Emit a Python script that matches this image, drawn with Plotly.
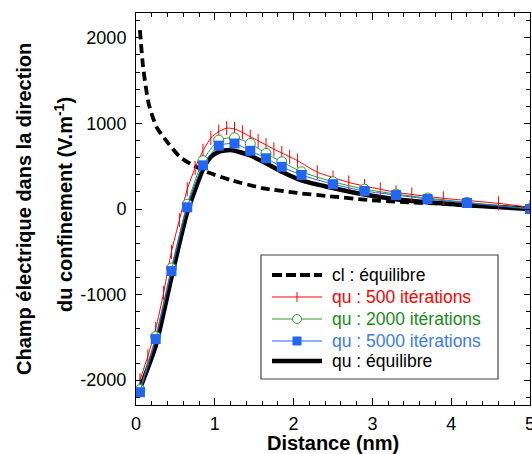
import plotly.graph_objects as go

# ---------------- data ----------------
cl_x = [0.05, 0.09, 0.16, 0.26, 0.41, 0.56, 0.72, 0.9, 1.2, 1.6, 2.05, 2.45, 2.95, 3.4, 3.8, 4.2, 4.6, 5.0]
cl_y = [2090, 1660, 1233, 960, 766, 606, 513, 432, 338, 245, 187, 150, 105, 80, 65, 45, 25, 0]

red_x = [0.05, 0.15, 0.25, 0.35, 0.45, 0.55, 0.65, 0.75, 0.85, 0.95, 1.05, 1.15, 1.25, 1.35, 1.45,
         1.55, 1.65, 1.75, 1.85, 1.95, 2.05, 2.3, 2.5, 2.7, 2.9, 3.1, 3.3, 3.5, 3.9, 4.6, 5.0]
red_y = [-2000, -1720, -1400, -980, -500, -130, 230, 480, 680, 830, 905, 945, 935, 895, 845,
         797, 748, 698, 655, 610, 565, 430, 368, 310, 268, 230, 195, 170, 125, 66, 20]

mk_x = [0.05, 0.25, 0.45, 0.65, 0.85, 1.05, 1.25, 1.45, 1.65, 1.85, 2.1, 2.5, 2.9, 3.3, 3.7, 4.2, 5.0]
green_y = [-2110, -1490, -690, 55, 565, 805, 832, 766, 650, 552, 435, 318, 232, 175, 128, 78, 5]
blue_y = [-2140, -1520, -725, 20, 510, 740, 765, 680, 593, 493, 397, 290, 210, 163, 117, 70, 0]

eq_x = [0.05, 0.25, 0.45, 0.65, 0.85, 0.95, 1.05, 1.2, 1.45, 1.65, 1.85, 2.1, 2.5, 2.9, 3.3, 3.7, 4.2, 5.0]
eq_y = [-2100, -1600, -800, -40, 460, 610, 668, 690, 625, 535, 435, 335, 245, 170, 115, 78, 45, 0]

x_ticks = [0, 1, 2, 3, 4, 5]
x_ticktext = ["0", "1", "2", "3", "4", "5"]
y_ticks = [-2000, -1000, 0, 1000, 2000]
y_ticktext = ["-2000", "-1000", "0", "1000", "2000"]

names = ["cl : équilibre", "qu : 500 itérations", "qu : 2000 itérations",
         "qu : 5000 itérations", "qu : équilibre"]

RED = "#ff0000"
GREEN_LINE = "#2f9a2f"
GREEN_TXT = "#1a8a1a"
BLUE = "#2266f2"
BLUE_TXT = "#3b7bf2"
FONT = "Liberation Sans, Arial, sans-serif"

fig = go.Figure()
fig.add_trace(go.Scatter(x=eq_x, y=eq_y, mode="lines", name=names[4],
                         line=dict(color="black", width=4.5, shape="spline", smoothing=0.6)))
fig.add_trace(go.Scatter(x=cl_x, y=cl_y, mode="lines", name=names[0],
                         line=dict(color="black", width=3.8, dash="9px,5px", shape="spline", smoothing=0.6)))
fig.add_trace(go.Scatter(x=red_x, y=red_y, mode="lines+markers", name=names[1],
                         line=dict(color=RED, width=1, shape="spline", smoothing=0.6),
                         marker=dict(symbol="line-ns", size=10, line=dict(color=RED, width=1))))
fig.add_trace(go.Scatter(x=mk_x, y=green_y, mode="lines+markers", name=names[2],
                         line=dict(color=GREEN_LINE, width=1, shape="spline", smoothing=0.6),
                         marker=dict(symbol="circle", size=10, color="white",
                                     line=dict(color=GREEN_LINE, width=1))))
fig.add_trace(go.Scatter(x=mk_x, y=blue_y, mode="lines+markers", name=names[3],
                         line=dict(color=BLUE, width=1, shape="spline", smoothing=0.6),
                         marker=dict(symbol="square", size=10, color=BLUE)))

# ---------------- layout ----------------
W, H = 532, 454
L, R, T, B = 136, 2, 13, 49
PW, PH = W - L - R, H - T - B


def px(xp):
    return (xp - L) / PW


def py(yp):
    return (H - B - yp) / PH


axis_common = dict(showgrid=False, zeroline=False, showline=True, linecolor="black", linewidth=1,
                   mirror="allticks", ticks="inside", tickcolor="black", ticklabeloverflow="allow",
                   automargin=False, tickfont=dict(family=FONT, size=18, color="black"))

fig.update_layout(
    width=W, height=H, margin=dict(l=L, r=R, t=T, b=B, autoexpand=False),
    paper_bgcolor="white", plot_bgcolor="white", showlegend=False,
    font=dict(family=FONT, color="black"),
    xaxis=dict(range=[0, 5], tickvals=x_ticks, ticktext=x_ticktext, ticklen=7,
               minor=dict(dtick=0.2, ticks="inside", ticklen=4, tickcolor="black"),
               ticklabelstandoff=2, **axis_common),
    yaxis=dict(range=[-2290, 2290], tickvals=y_ticks, ticktext=y_ticktext, ticklen=6,
               minor=dict(dtick=200, ticks="inside", ticklen=4, tickcolor="black"),
               ticklabelstandoff=5, **axis_common),
)

ann = []
ann.append(dict(text="<b>Distance (nm)</b>", xref="paper", yref="paper", x=0.5, y=0,
                yshift=-38, xanchor="center", yanchor="middle", showarrow=False,
                font=dict(family=FONT, size=20, color="black")))
ann.append(dict(text="<b>Champ électrique dans la direction</b>", xref="paper", yref="paper",
                x=0, y=py(209), xshift=24 - L, xanchor="center", yanchor="middle",
                textangle=-90, showarrow=False, font=dict(family=FONT, size=20, color="black")))
ann.append(dict(text="<b>du confinement (V.m<sup>-1</sup>)</b>", xref="paper", yref="paper",
                x=0, y=py(205), xshift=63 - L, xanchor="center", yanchor="middle",
                textangle=-90, showarrow=False, font=dict(family=FONT, size=20, color="black")))

# ---------------- custom legend ----------------
shapes = [dict(type="rect", xref="paper", yref="paper", x0=px(261), x1=px(498), y0=py(379), y1=py(255),
               line=dict(color="#444", width=1.2), fillcolor="white", layer="above")]
rows = [275, 297, 319, 341, 361]
lx0, lx1, lxc, tx = px(272), px(322), px(297), px(330)
txt_colors = ["black", RED, GREEN_TXT, BLUE_TXT, "black"]
line_styles = [dict(color="black", width=4, dash="10px,4px"), dict(color=RED, width=1),
               dict(color=GREEN_LINE, width=1), dict(color=BLUE, width=1),
               dict(color="black", width=4.5)]
for i, r in enumerate(rows):
    yy = py(r)
    shapes.append(dict(type="line", xref="paper", yref="paper", x0=lx0, x1=lx1, y0=yy, y1=yy,
                       line=line_styles[i], layer="above"))
    ann.append(dict(text=names[i], xref="paper", yref="paper", x=tx, y=yy, xanchor="left",
                    yanchor="middle", showarrow=False,
                    font=dict(family=FONT, size=17.5, color=txt_colors[i])))
# marker samples
shapes.append(dict(type="line", xref="paper", yref="paper", ysizemode="pixel", yanchor=py(rows[1]),
                   x0=lxc, x1=lxc, y0=-5, y1=5, line=dict(color=RED, width=1), layer="above"))
shapes.append(dict(type="circle", xref="paper", yref="paper", xsizemode="pixel", ysizemode="pixel",
                   xanchor=lxc, yanchor=py(rows[2]), x0=-4.5, x1=4.5, y0=-4.5, y1=4.5,
                   fillcolor="white", line=dict(color=GREEN_LINE, width=1), layer="above"))
shapes.append(dict(type="rect", xref="paper", yref="paper", xsizemode="pixel", ysizemode="pixel",
                   xanchor=lxc, yanchor=py(rows[3]), x0=-4.5, x1=4.5, y0=-4.5, y1=4.5,
                   fillcolor=BLUE, line=dict(color=BLUE, width=0), layer="above"))

fig.update_layout(annotations=ann, shapes=shapes)

fig.write_html("out.html", config={"displayModeBar": False},
               post_script="document.body.style.margin='0';document.body.style.overflow='hidden';")
